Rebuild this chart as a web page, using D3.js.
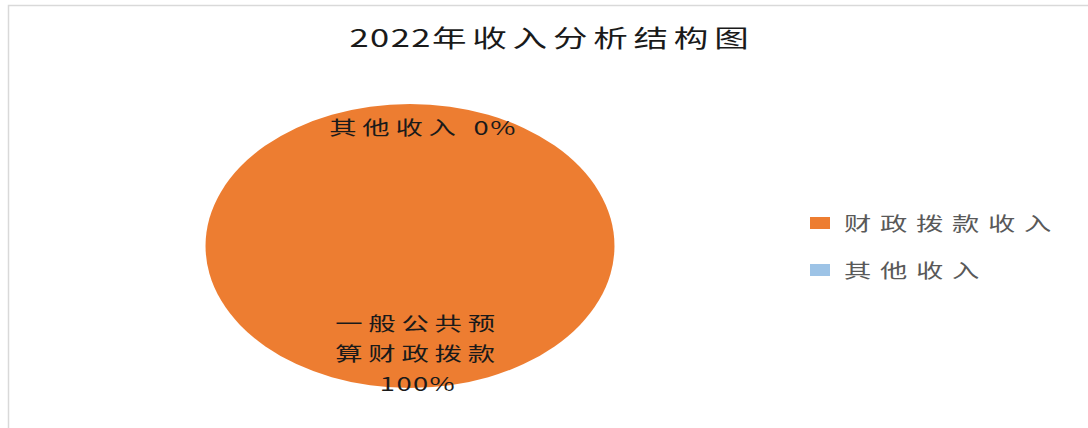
<!DOCTYPE html>
<html>
<head>
<meta charset="utf-8">
<script src="https://cdn.jsdelivr.net/npm/d3@7/dist/d3.min.js"></script>
<style>
  body { margin: 0; background: #fff; }
  text { font-family: "Noto Sans CJK SC", "Noto Sans", sans-serif; }
</style>
</head>
<body>
<svg id="chart" width="1088" height="428"></svg>
<script>
// chart data
const title = "2022年收入分析结构图";
const legendNames = ["财政拨款收入", "其他收入"];
const sliceLabels = [["一般公共预", "算财政拨款"], ["其他收入"]];
const values = [100, 0];
const colors = ["#ED7D31", "#9DC3E6"];

// the original picture is stretched sideways, so draw in a squeezed group
const sx = 1.44;
const width = 1088, height = 428;
const svg = d3.select("#chart");

// chart frame
svg.append("path")
    .attr("d", `M8.5,${height} V5.5 H${width}`)
    .attr("fill", "none")
    .attr("stroke", "#d9d9d9")
    .attr("stroke-width", 1.5);

const g = svg.append("g").attr("transform", `scale(${sx},1)`);

g.append("text")
    .attr("x", 552 / sx)
    .attr("y", 47)
    .attr("text-anchor", "middle")
    .attr("font-size", "24px")
    .attr("fill", "#1a1a1a")
    .call(t => {
        t.append("tspan").attr("letter-spacing", "1px").text(title.slice(0, 4));
        t.append("tspan").attr("letter-spacing", "4px").text(title.slice(4));
    });

// pie
const radius = 142;
const cx = 410 / sx, cy = 246;
const pie = d3.pie().sort(null).value(d => d);
const arcs = pie(values);
const arc = d3.arc().innerRadius(0).outerRadius(radius);
const total = d3.sum(values);
const fmt = v => Math.round(v / total * 100) + "%";

const pieG = g.append("g").attr("transform", `translate(${cx},${cy})`);

pieG.selectAll("path.slice")
    .data(arcs)
    .join("path")
    .attr("class", "slice")
    .attr("d", arc)
    .attr("fill", (d, i) => colors[i]);

// data labels
const bigLabelArc = d3.arc().innerRadius(radius * 0.75).outerRadius(radius * 0.75);
const smallLabelArc = d3.arc().innerRadius(radius * 0.84).outerRadius(radius * 0.84);

arcs.forEach((a, i) => {
    const small = a.value / total < 0.05;
    const [x, y] = (small ? smallLabelArc : bigLabelArc).centroid(a);
    const t = pieG.append("text")
        .attr("text-anchor", "middle")
        .attr("dominant-baseline", "central")
        .attr("font-size", "19px")
        .attr("fill", "#1a1a1a");
    if (small) {
        t.attr("x", x + 13 / sx).attr("y", y);
        t.append("tspan").attr("letter-spacing", "4px").text(sliceLabels[i].join("") + "\u00a0");
        t.append("tspan").attr("letter-spacing", "1px").text(fmt(a.value));
    } else {
        const lines = sliceLabels[i].concat([fmt(a.value)]);
        t.selectAll("tspan")
            .data(lines)
            .join("tspan")
            .attr("x", x + 8 / sx)
            .attr("y", (d, k) => y + (k - 1) * 30)
            .attr("letter-spacing", (d, k) => k < lines.length - 1 ? "4px" : "1px")
            .text(d => d);
    }
});

// legend
const legendY = d3.scalePoint().domain(legendNames).range([223, 270]);
const legend = g.selectAll("g.legend")
    .data(legendNames)
    .join("g")
    .attr("class", "legend")
    .attr("transform", d => `translate(${810 / sx},${legendY(d)})`);

legend.append("rect")
    .attr("x", 0)
    .attr("y", -6)
    .attr("width", 20 / sx)
    .attr("height", 12)
    .attr("fill", (d, i) => colors[i]);

legend.append("text")
    .attr("x", 34 / sx)
    .attr("y", 0)
    .attr("dominant-baseline", "central")
    .attr("font-size", "19px")
    .attr("letter-spacing", "6px")
    .attr("fill", "#595959")
    .text(d => d);
</script>
</body>
</html>
